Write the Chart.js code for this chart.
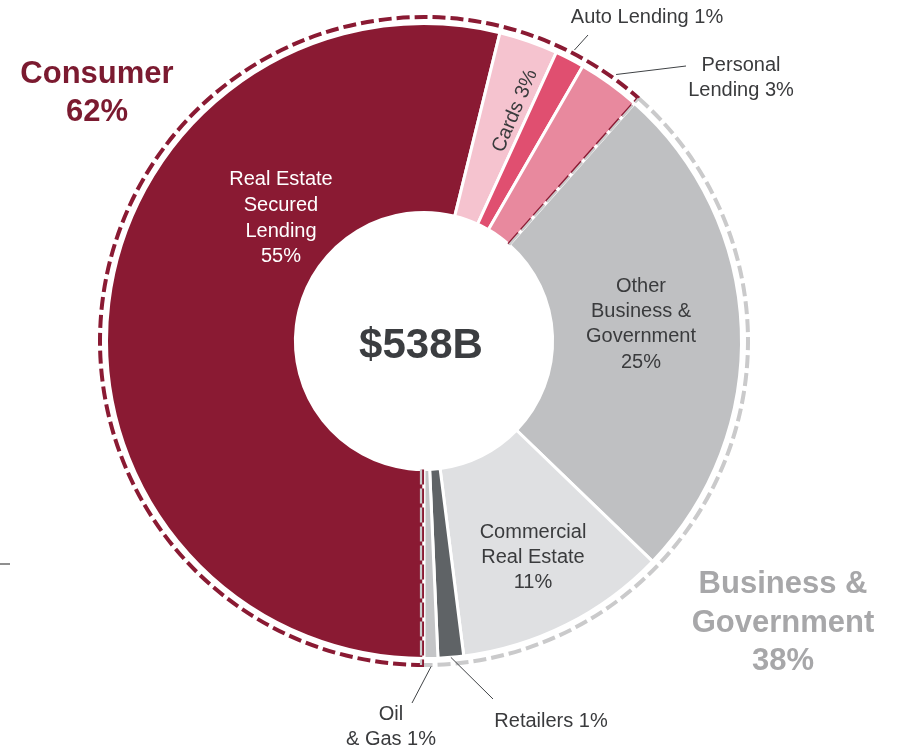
<!DOCTYPE html>
<html>
<head>
<meta charset="utf-8">
<title>Loan portfolio</title>
<script src="https://cdn.jsdelivr.net/npm/chart.js@4.4.1/dist/chart.umd.min.js"></script>
<style>
  body { margin: 0; background: #fff; }
  #wrap { width: 897px; height: 750px; position: relative; }
</style>
</head>
<body>
<div id="wrap"><canvas id="portfolioChart"></canvas></div>
<script>
// slices, clockwise from 6 o'clock
const segments = ['Real Estate Secured Lending', 'Cards', 'Auto Lending', 'Personal Lending',
    'Other Business & Government', 'Commercial Real Estate', 'Retailers', 'Oil & Gas'];
const shares = [53.9, 3.0, 1.5, 3.2, 25.7, 10.8, 1.3, 0.7];
const segmentColors = ['#8a1a33', '#f5c3cf', '#e04f70', '#e8899e', '#bfc0c2', '#dfe0e2', '#5f6366', '#c4c5c7'];

// label text for each slice
const sliceLabels = [
    ['Real Estate', 'Secured', 'Lending', '55%'],
    ['Cards 3%'],
    ['Auto Lending 1%'],
    ['Personal', 'Lending 3%'],
    ['Other', 'Business &', 'Government', '25%'],
    ['Commercial', 'Real Estate', '11%'],
    ['Retailers 1%'],
    ['Oil', '& Gas 1%']
];

const groupNames = [['Consumer', '62%'], ['Business &', 'Government', '38%']];
const groupFirst = [0, 4];
const groupLast = [3, 7];
const groupColors = ['#8a1a33', '#cacacb'];
const groupTextColors = ['#7b1a30', '#a7a7a9'];
const totalLabel = '$538B';

const FONT = "'Liberation Sans', Arial, sans-serif";

function polar(arc, angle, r) {
    return { x: arc.x + Math.cos(angle) * r, y: arc.y + Math.sin(angle) * r };
}

function radialDash(ctx, arc, angle, shift, r0, r1, color, width) {
    const nx = -Math.sin(angle) * shift;
    const ny = Math.cos(angle) * shift;
    const a = polar(arc, angle, r0);
    const b = polar(arc, angle, r1);
    ctx.beginPath();
    ctx.strokeStyle = color;
    ctx.lineWidth = width;
    ctx.setLineDash([15, 4]);
    ctx.moveTo(a.x + nx, a.y + ny);
    ctx.lineTo(b.x + nx, b.y + ny);
    ctx.stroke();
}

function textLines(ctx, lines, x, baselines) {
    lines.forEach((t, i) => ctx.fillText(t, x, baselines[i]));
}

function leader(ctx, arc, r, x2, y2) {
    const mid = (arc.startAngle + arc.endAngle) / 2;
    const p = polar(arc, mid, r);
    ctx.beginPath();
    ctx.strokeStyle = '#3f4245';
    ctx.lineWidth = 1;
    ctx.setLineDash([]);
    ctx.moveTo(p.x, p.y);
    ctx.lineTo(x2, y2);
    ctx.stroke();
}

const decorations = {
    id: 'decorations',
    afterDatasetsDraw(chart) {
        const ctx = chart.ctx;
        const arcs = chart.getDatasetMeta(0).data;
        const ref = arcs[0];
        const ringR = ref.outerRadius + 6.5;

        ctx.save();
        ctx.lineCap = 'butt';

        // group outlines
        for (let g = 0; g < 2; g++) {
            const start = arcs[groupFirst[g]].startAngle;
            const end = arcs[groupLast[g]].endAngle;
            const w = g === 0 ? 2.5 : 2.2;
            radialDash(ctx, ref, start, g === 0 ? 1.2 : 0, ref.innerRadius, ringR, groupColors[g], w);
            radialDash(ctx, ref, end, g === 0 ? -1.2 : 3, ref.innerRadius, ringR, groupColors[g], w);
            ctx.beginPath();
            ctx.strokeStyle = groupColors[g];
            ctx.lineWidth = 4;
            ctx.setLineDash([13, 5]);
            ctx.arc(ref.x, ref.y, ringR, start, end);
            ctx.stroke();
        }

        // leader lines
        leader(ctx, arcs[2], ref.outerRadius + 10, 588, 35);
        leader(ctx, arcs[3], ref.outerRadius + 11, 686, 66);
        leader(ctx, arcs[6], ref.outerRadius, 493, 699);
        leader(ctx, arcs[7], ref.outerRadius + 8, 412, 703);

        // stray rule at left edge
        ctx.beginPath();
        ctx.strokeStyle = '#6a6a6a';
        ctx.lineWidth = 1.5;
        ctx.moveTo(0, 564);
        ctx.lineTo(10, 564);
        ctx.stroke();

        ctx.textAlign = 'center';
        ctx.textBaseline = 'alphabetic';

        // slice labels
        ctx.font = '20px ' + FONT;
        ctx.fillStyle = '#ffffff';
        textLines(ctx, sliceLabels[0], 281, [185, 211, 237, 262]);
        ctx.fillStyle = '#3a3b3d';
        textLines(ctx, sliceLabels[4], 641, [292, 317, 342, 368]);
        textLines(ctx, sliceLabels[5], 533, [538, 563, 588]);
        textLines(ctx, sliceLabels[2], 647, [23]);
        textLines(ctx, sliceLabels[3], 741, [71, 96]);
        textLines(ctx, sliceLabels[7], 391, [720, 745]);
        textLines(ctx, sliceLabels[6], 551, [727]);

        ctx.save();
        ctx.translate(515, 111);
        ctx.rotate(-67 * Math.PI / 180);
        ctx.textBaseline = 'middle';
        ctx.fillText(sliceLabels[1][0], 0, 0);
        ctx.restore();

        // group labels
        ctx.font = 'bold 31px ' + FONT;
        ctx.fillStyle = groupTextColors[0];
        textLines(ctx, groupNames[0], 97, [83, 121]);
        ctx.fillStyle = groupTextColors[1];
        textLines(ctx, groupNames[1], 783, [593, 632, 670]);

        // total
        ctx.font = 'bold 42px ' + FONT;
        ctx.fillStyle = '#3b3d40';
        ctx.fillText(totalLabel, 421, 358);

        ctx.restore();
    }
};

new Chart(document.getElementById('portfolioChart'), {
    type: 'doughnut',
    data: {
        labels: segments,
        datasets: [{
            data: shares,
            backgroundColor: segmentColors,
            borderColor: '#ffffff',
            borderWidth: 3,
            hoverOffset: 0
        }]
    },
    options: {
        responsive: true,
        maintainAspectRatio: false,
        animation: false,
        events: [],
        rotation: 180,
        radius: 317.5,
        cutout: '40.5%',
        layout: { padding: { left: 0, right: 49, top: 0, bottom: 68 } },
        plugins: {
            legend: { display: false },
            tooltip: { enabled: false }
        }
    },
    plugins: [decorations]
});
</script>
</body>
</html>
